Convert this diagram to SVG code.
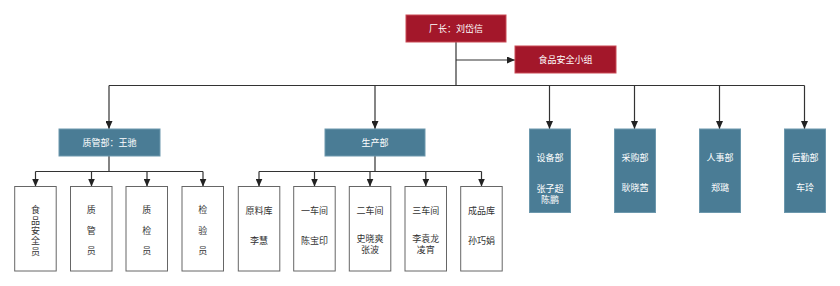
<svg xmlns="http://www.w3.org/2000/svg" width="840" height="286" viewBox="0 0 840 286">
<defs>
<marker id="arr" markerWidth="8" markerHeight="7" refX="8" refY="3.5" orient="auto" markerUnits="userSpaceOnUse">
<path d="M0,0 L8,3.5 L0,7 z" fill="#222"/>
</marker>
<style>
.red{fill:#A3172A;stroke:#C94A55;stroke-width:1}
.teal{fill:#4A7C95;stroke:#6C98AD;stroke-width:1}
.white{fill:#fff;stroke:#666;stroke-width:1}
text{font-family:"Noto Sans CJK SC","Noto Sans",sans-serif;font-size:9px;text-anchor:middle;dominant-baseline:central}
.wt{fill:#fff}
.dt{fill:#333}
.c{fill:none;stroke:#333;stroke-width:1.2}
</style>
</defs>
<rect width="840" height="286" fill="#fff"/>
<g id="connectors">
<path class="c" d="M456,42 V85.5"/>
<path class="c" d="M456,60 H515" marker-end="url(#arr)"/>
<path class="c" d="M109,85.5 H804.5"/>
<path class="c" d="M109,85.5 V129" marker-end="url(#arr)"/>
<path class="c" d="M375,85.5 V129" marker-end="url(#arr)"/>
<path class="c" d="M549.5,85.5 V129" marker-end="url(#arr)"/>
<path class="c" d="M634.5,85.5 V129" marker-end="url(#arr)"/>
<path class="c" d="M719.5,85.5 V129" marker-end="url(#arr)"/>
<path class="c" d="M804.5,85.5 V129" marker-end="url(#arr)"/>
<path class="c" d="M109,156 V171.5 M35.5,171.5 H203"/>
<path class="c" d="M35.5,171.5 V186.5" marker-end="url(#arr)"/>
<path class="c" d="M91.5,171.5 V186.5" marker-end="url(#arr)"/>
<path class="c" d="M147,171.5 V186.5" marker-end="url(#arr)"/>
<path class="c" d="M203,171.5 V186.5" marker-end="url(#arr)"/>
<path class="c" d="M375,156 V171.5 M259,171.5 H481.5"/>
<path class="c" d="M259,171.5 V186.5" marker-end="url(#arr)"/>
<path class="c" d="M314.5,171.5 V186.5" marker-end="url(#arr)"/>
<path class="c" d="M370,171.5 V186.5" marker-end="url(#arr)"/>
<path class="c" d="M425.8,171.5 V186.5" marker-end="url(#arr)"/>
<path class="c" d="M481.5,171.5 V186.5" marker-end="url(#arr)"/>
</g>
<g id="director"><rect class="red" x="406" y="15" width="100" height="27"/><text class="wt" x="456" y="28.5">厂长：刘岱信</text></g>
<g id="food-safety-group"><rect class="red" x="515" y="46" width="101" height="27"/><text class="wt" x="565.5" y="59.5">食品安全小组</text></g>
<g id="qa-dept"><rect class="teal" x="59" y="129" width="101" height="27"/><text class="wt" x="109.5" y="142.5">质管部：王驰</text></g>
<g id="production-dept"><rect class="teal" x="325" y="129" width="100" height="27"/><text class="wt" x="375" y="142.5">生产部</text></g>
<g id="equipment-dept"><rect class="teal" x="529.5" y="129" width="41" height="83.5"/><text class="wt" x="550" y="157.3">设备部</text><text class="wt" x="550" y="188.3">张子超<tspan x="550" dy="10.2">陈鹏</tspan></text></g>
<g id="purchase-dept"><rect class="teal" x="614.5" y="129" width="41" height="83.5"/><text class="wt" x="635" y="157.3">采购部</text><text class="wt" x="635" y="187.5">耿晓茜</text></g>
<g id="hr-dept"><rect class="teal" x="699.5" y="129" width="41" height="83.5"/><text class="wt" x="720" y="157.3">人事部</text><text class="wt" x="720" y="187.5">郑璐</text></g>
<g id="logistics-dept"><rect class="teal" x="784.5" y="129" width="41" height="83.5"/><text class="wt" x="805" y="157.3">后勤部</text><text class="wt" x="805" y="187.5">车玲</text></g>
<g id="food-safety-officer"><rect class="white" x="14.7" y="186.5" width="41.5" height="84.5"/><text class="dt" x="35.5" y="209.3">食<tspan x="35.5" dy="10.35">品</tspan><tspan x="35.5" dy="10.35">安</tspan><tspan x="35.5" dy="10.35">全</tspan><tspan x="35.5" dy="10.35">员</tspan></text></g>
<g id="qa-officer"><rect class="white" x="70.5" y="186.5" width="41.5" height="84.5"/><text class="dt" x="91.3" y="209.3">质</text><text class="dt" x="91.3" y="230">管</text><text class="dt" x="91.3" y="250.7">员</text></g>
<g id="qc-officer"><rect class="white" x="126" y="186.5" width="41.5" height="84.5"/><text class="dt" x="146.8" y="209.3">质</text><text class="dt" x="146.8" y="230">检</text><text class="dt" x="146.8" y="250.7">员</text></g>
<g id="inspector"><rect class="white" x="182" y="186.5" width="41.5" height="84.5"/><text class="dt" x="202.8" y="209.3">检</text><text class="dt" x="202.8" y="230">验</text><text class="dt" x="202.8" y="250.7">员</text></g>
<g id="raw-warehouse"><rect class="white" x="238.3" y="186.5" width="41.5" height="84.5"/><text class="dt" x="259" y="210">原料库</text><text class="dt" x="259" y="240.7">李慧</text></g>
<g id="workshop-1"><rect class="white" x="293.7" y="186.5" width="41.5" height="84.5"/><text class="dt" x="314.5" y="210">一车间</text><text class="dt" x="314.5" y="240.7">陈宝印</text></g>
<g id="workshop-2"><rect class="white" x="349.3" y="186.5" width="41.5" height="84.5"/><text class="dt" x="370" y="210">二车间</text><text class="dt" x="370" y="238.3">史晓爽<tspan x="370" dy="10.2">张波</tspan></text></g>
<g id="workshop-3"><rect class="white" x="405" y="186.5" width="41.5" height="84.5"/><text class="dt" x="425.8" y="210">三车间</text><text class="dt" x="425.8" y="238.3">李袁龙<tspan x="425.8" dy="10.2">凌宵</tspan></text></g>
<g id="finished-warehouse"><rect class="white" x="460.7" y="186.5" width="41.5" height="84.5"/><text class="dt" x="481.5" y="210">成品库</text><text class="dt" x="481.5" y="240.7">孙巧娟</text></g>
</svg>
